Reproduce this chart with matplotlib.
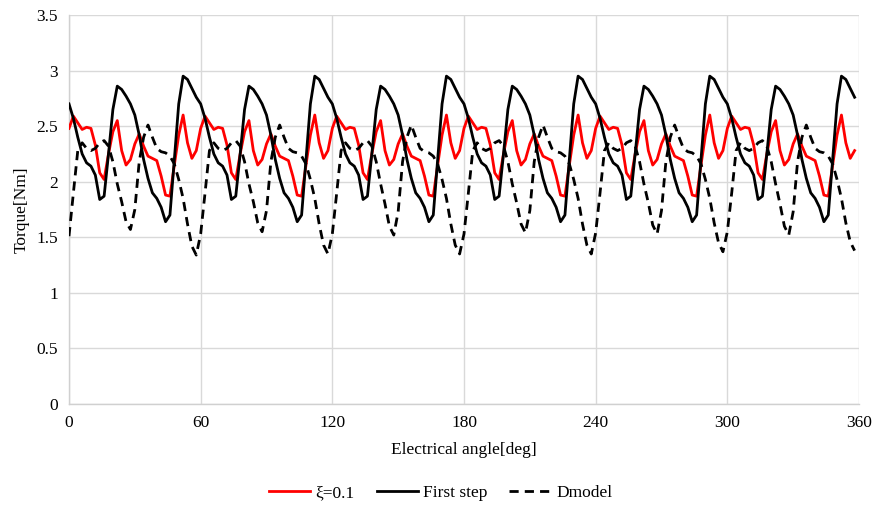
import matplotlib
matplotlib.use("Agg")
import matplotlib.pyplot as plt
import numpy as np

plt.rcParams['font.family'] = ['Liberation Serif', 'DejaVu Serif']

# Electrical angle samples, 2 deg step
angle = np.arange(0, 360, 2)

# Torque for the xi = 0.1 design (one row per 60 deg electrical period)
torque_xi = [
    2.48, 2.59, 2.53, 2.47, 2.49, 2.48, 2.33, 2.08, 2.02, 2.25, 2.45, 2.55, 2.28, 2.15, 2.20,
    2.34, 2.43, 2.32, 2.23, 2.21, 2.19, 2.05, 1.88, 1.87, 2.15, 2.42, 2.60, 2.35, 2.21, 2.28,
    2.48, 2.59, 2.53, 2.47, 2.49, 2.48, 2.33, 2.08, 2.02, 2.25, 2.45, 2.55, 2.28, 2.15, 2.20,
    2.34, 2.43, 2.32, 2.23, 2.21, 2.19, 2.05, 1.88, 1.87, 2.15, 2.42, 2.60, 2.35, 2.21, 2.28,
    2.48, 2.59, 2.53, 2.47, 2.49, 2.48, 2.33, 2.08, 2.02, 2.25, 2.45, 2.55, 2.28, 2.15, 2.20,
    2.34, 2.43, 2.32, 2.23, 2.21, 2.19, 2.05, 1.88, 1.87, 2.15, 2.42, 2.60, 2.35, 2.21, 2.28,
    2.48, 2.59, 2.53, 2.47, 2.49, 2.48, 2.33, 2.08, 2.02, 2.25, 2.45, 2.55, 2.28, 2.15, 2.20,
    2.34, 2.43, 2.32, 2.23, 2.21, 2.19, 2.05, 1.88, 1.87, 2.15, 2.42, 2.60, 2.35, 2.21, 2.28,
    2.48, 2.59, 2.53, 2.47, 2.49, 2.48, 2.33, 2.08, 2.02, 2.25, 2.45, 2.55, 2.28, 2.15, 2.20,
    2.34, 2.43, 2.32, 2.23, 2.21, 2.19, 2.05, 1.88, 1.87, 2.15, 2.42, 2.60, 2.35, 2.21, 2.28,
    2.48, 2.59, 2.53, 2.47, 2.49, 2.48, 2.33, 2.08, 2.02, 2.25, 2.45, 2.55, 2.28, 2.15, 2.20,
    2.34, 2.43, 2.32, 2.23, 2.21, 2.19, 2.05, 1.88, 1.87, 2.15, 2.42, 2.60, 2.35, 2.21, 2.28,
]

# Torque for the first design step
torque_first = [
    2.70, 2.57, 2.40, 2.25, 2.17, 2.14, 2.06, 1.84, 1.87, 2.25, 2.65, 2.86, 2.83, 2.77, 2.70,
    2.60, 2.42, 2.20, 2.03, 1.90, 1.85, 1.77, 1.64, 1.70, 2.20, 2.70, 2.95, 2.92, 2.84, 2.76,
    2.70, 2.57, 2.40, 2.25, 2.17, 2.14, 2.06, 1.84, 1.87, 2.25, 2.65, 2.86, 2.83, 2.77, 2.70,
    2.60, 2.42, 2.20, 2.03, 1.90, 1.85, 1.77, 1.64, 1.70, 2.20, 2.70, 2.95, 2.92, 2.84, 2.76,
    2.70, 2.57, 2.40, 2.25, 2.17, 2.14, 2.06, 1.84, 1.87, 2.25, 2.65, 2.86, 2.83, 2.77, 2.70,
    2.60, 2.42, 2.20, 2.03, 1.90, 1.85, 1.77, 1.64, 1.70, 2.20, 2.70, 2.95, 2.92, 2.84, 2.76,
    2.70, 2.57, 2.40, 2.25, 2.17, 2.14, 2.06, 1.84, 1.87, 2.25, 2.65, 2.86, 2.83, 2.77, 2.70,
    2.60, 2.42, 2.20, 2.03, 1.90, 1.85, 1.77, 1.64, 1.70, 2.20, 2.70, 2.95, 2.92, 2.84, 2.76,
    2.70, 2.57, 2.40, 2.25, 2.17, 2.14, 2.06, 1.84, 1.87, 2.25, 2.65, 2.86, 2.83, 2.77, 2.70,
    2.60, 2.42, 2.20, 2.03, 1.90, 1.85, 1.77, 1.64, 1.70, 2.20, 2.70, 2.95, 2.92, 2.84, 2.76,
    2.70, 2.57, 2.40, 2.25, 2.17, 2.14, 2.06, 1.84, 1.87, 2.25, 2.65, 2.86, 2.83, 2.77, 2.70,
    2.60, 2.42, 2.20, 2.03, 1.90, 1.85, 1.77, 1.64, 1.70, 2.20, 2.70, 2.95, 2.92, 2.84, 2.76,
]

# Torque for the D model
torque_dmodel = [
    1.51, 1.90, 2.28, 2.35, 2.30, 2.28, 2.30, 2.35, 2.37, 2.32, 2.18, 1.98, 1.82, 1.64, 1.57,
    1.75, 2.18, 2.40, 2.51, 2.40, 2.30, 2.27, 2.26, 2.23, 2.16, 2.02, 1.85, 1.62, 1.42, 1.34,
    1.53, 1.90, 2.28, 2.35, 2.30, 2.28, 2.30, 2.35, 2.37, 2.32, 2.18, 1.98, 1.82, 1.63, 1.55,
    1.74, 2.18, 2.40, 2.51, 2.40, 2.30, 2.27, 2.26, 2.23, 2.16, 2.02, 1.85, 1.62, 1.43, 1.35,
    1.53, 1.90, 2.28, 2.35, 2.30, 2.28, 2.30, 2.35, 2.37, 2.32, 2.18, 1.98, 1.80, 1.60, 1.52,
    1.73, 2.18, 2.40, 2.51, 2.40, 2.30, 2.27, 2.26, 2.23, 2.16, 2.02, 1.85, 1.62, 1.43, 1.35,
    1.53, 1.90, 2.28, 2.35, 2.30, 2.28, 2.30, 2.35, 2.37, 2.32, 2.18, 1.98, 1.81, 1.62, 1.54,
    1.74, 2.18, 2.40, 2.51, 2.40, 2.30, 2.27, 2.26, 2.23, 2.16, 2.02, 1.85, 1.62, 1.43, 1.35,
    1.54, 1.90, 2.28, 2.35, 2.30, 2.28, 2.30, 2.35, 2.37, 2.32, 2.18, 1.98, 1.81, 1.61, 1.53,
    1.74, 2.18, 2.40, 2.51, 2.40, 2.30, 2.27, 2.26, 2.23, 2.16, 2.02, 1.85, 1.63, 1.45, 1.37,
    1.55, 1.90, 2.28, 2.35, 2.30, 2.28, 2.30, 2.35, 2.37, 2.32, 2.18, 1.98, 1.80, 1.60, 1.52,
    1.73, 2.18, 2.40, 2.51, 2.40, 2.30, 2.27, 2.26, 2.23, 2.16, 2.02, 1.85, 1.63, 1.46, 1.38,
]

x_ticks = [0, 60, 120, 180, 240, 300, 360]
y_ticks = [0, 0.5, 1, 1.5, 2, 2.5, 3, 3.5]
y_tick_labels = ["0", "0.5", "1", "1.5", "2", "2.5", "3", "3.5"]

FS = 12.5

fig = plt.figure(figsize=(8.76, 5.09), dpi=100)
ax = fig.add_axes([69 / 876, 1 - 404 / 509, 790 / 876, 389 / 509])

ax.plot(angle, torque_xi, color="#ff0000", lw=2.0, label="ξ=0.1", zorder=3)
ax.plot(angle, torque_first, color="black", lw=2.0, label="First step", zorder=4)
ax.plot(angle, torque_dmodel, color="black", lw=2.0, linestyle=(0, (3.3, 2.2)),
        label="Dmodel", zorder=5)

ax.set_xlim(0, 360)
ax.set_ylim(0, 3.5)
ax.set_xticks(x_ticks)
ax.set_yticks(y_ticks)
ax.set_yticklabels(y_tick_labels)
ax.tick_params(length=0, labelsize=FS, pad=8)
ax.grid(True, color="#d9d9d9", lw=1.0)
ax.set_axisbelow(True)
for side in ["top", "right"]:
    ax.spines[side].set_visible(False)
for side in ["left", "bottom"]:
    ax.spines[side].set_color("#d0d0d0")
    ax.spines[side].set_linewidth(1.0)

ax.set_xlabel("Electrical angle[deg]", fontsize=FS, labelpad=8)
ax.set_ylabel("Torque[Nm]", fontsize=FS, labelpad=5)

fig.legend(loc="center", bbox_to_anchor=(0.503, 1 - 493 / 509), ncol=3, frameon=False,
           fontsize=FS, handlelength=2.4, columnspacing=1.25, handletextpad=0.3)

fig.savefig("out.png", dpi=100)
